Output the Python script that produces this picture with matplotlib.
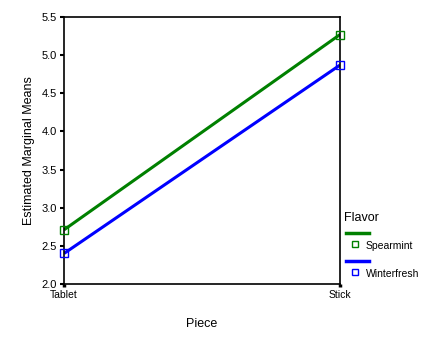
import matplotlib
matplotlib.use("Agg")
import matplotlib.pyplot as plt
from matplotlib.lines import Line2D

plt.rcParams['font.family'] = ['Liberation Sans', 'DejaVu Sans']

pieces = ["Tablet", "Stick"]
flavors = ["Spearmint", "Winterfresh"]
means = {
    "Spearmint": [2.71, 5.27],
    "Winterfresh": [2.40, 4.87],
}
colors = {"Spearmint": "#008000", "Winterfresh": "#0000ff"}
yticks = [2.0, 2.5, 3.0, 3.5, 4.0, 4.5, 5.0, 5.5]

fig = plt.figure(figsize=(4.25, 3.39), dpi=100)
ax = fig.add_axes([64 / 425, 1 - 284 / 339, 276 / 425, 267 / 339])

x = list(range(len(pieces)))
for f in flavors:
    ax.plot(x, means[f], color=colors[f], lw=2.2, solid_capstyle='butt', zorder=2)
    ax.plot(x, means[f], ls='none', marker='s', ms=5.5, mfc='none',
            mec=colors[f], mew=1.0, zorder=3, clip_on=False)

ax.set_xlim(0, 1)
ax.set_ylim(2.0, 5.5)
ax.set_xticks(x)
ax.set_xticklabels(pieces, fontsize=7.5)
ax.set_yticks(yticks)
ax.set_yticklabels([f"{v:.1f}" for v in yticks], fontsize=8)
ax.tick_params(axis='both', direction='out', length=3, width=1.5, pad=2)
ax.tick_params(axis='x', length=2, width=2.5, pad=2)
for s in ax.spines.values():
    s.set_linewidth(1.2)

ax.set_ylabel("Estimated Marginal Means", fontsize=9, labelpad=5)
ax.set_xlabel("Piece", fontsize=9, labelpad=13)

# legend drawn outside at right
fig.text(344 / 425, 1 - 218 / 339, "Flavor", fontsize=9, va='center', ha='left')
ly = [233, 261]
for f, y in zip(flavors, ly):
    yy = 1 - y / 339
    fig.add_artist(Line2D([346 / 425, 369 / 425], [yy, yy], color=colors[f], lw=2.5,
                          transform=fig.transFigure))
    my = 1 - (y + 11) / 339
    fig.add_artist(Line2D([355 / 425], [my], ls='none', marker='s', ms=5, mfc='none',
                          mec=colors[f], mew=1.0, transform=fig.transFigure))
    fig.text(366 / 425, my - 0.006, f, fontsize=7.5, va='center', ha='left')

fig.savefig("out.png", dpi=100)
